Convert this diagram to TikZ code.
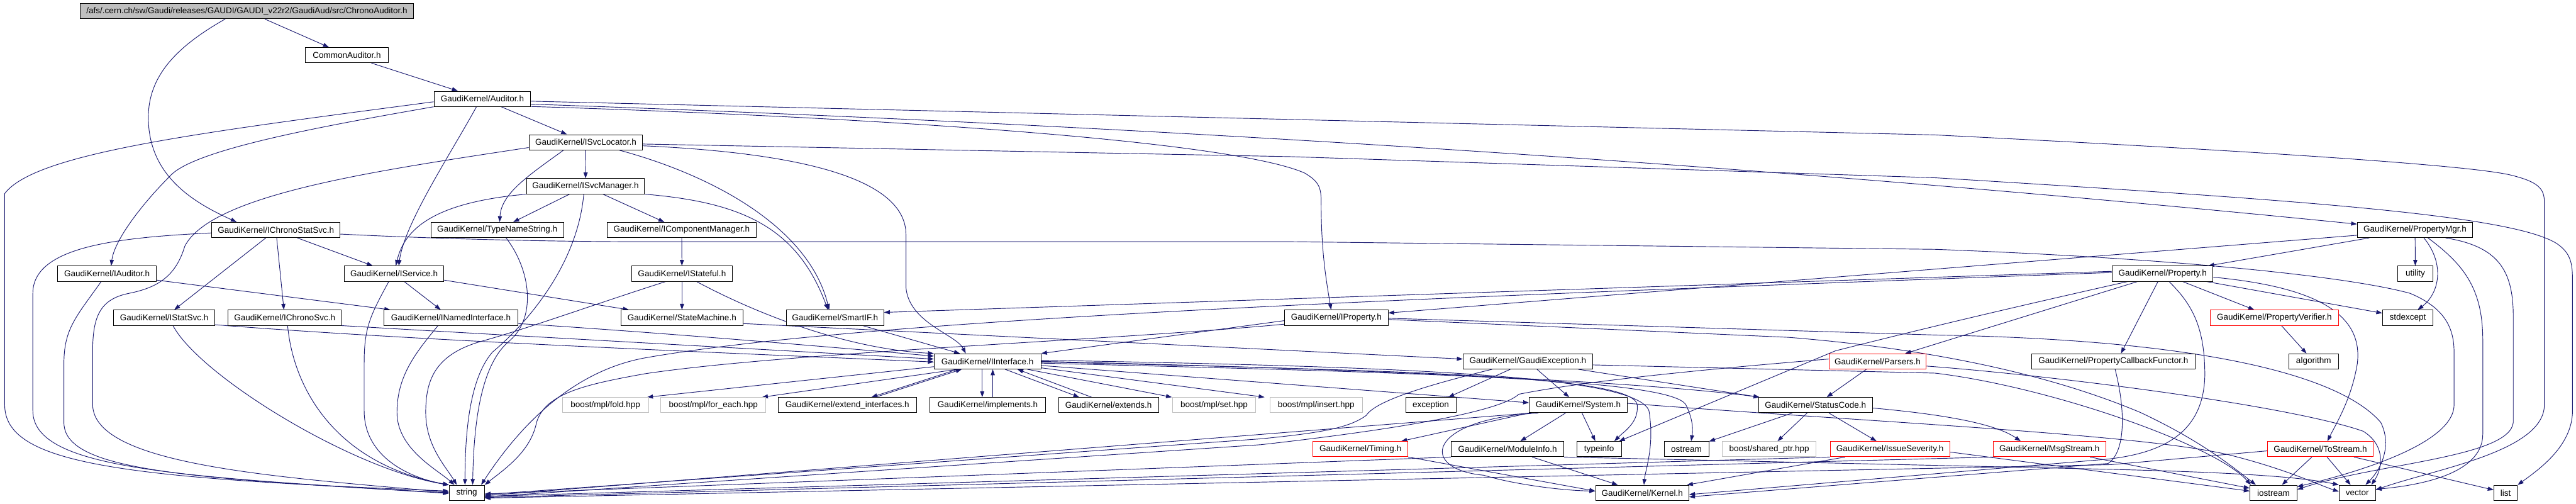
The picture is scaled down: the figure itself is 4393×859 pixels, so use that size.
\documentclass[tikz,border=0pt]{standalone}
\usepackage{fontspec}
\usetikzlibrary{arrows.meta,backgrounds}
\newfontfamily\gfont{Liberation Sans}
\newcommand{\ndfont}{\gfont\fontsize{14.5}{17}\selectfont}
\definecolor{eblue}{HTML}{191970}
\definecolor{gfill}{HTML}{BFBFBF}
\tikzset{
  nd/.style={draw=black, line width=1pt, fill=white, minimum height=26pt, inner sep=0pt, font=\ndfont, text=black},
  nmain/.style={nd, fill=gfill},
  nred/.style={nd, draw=red},
  ngrey/.style={nd, draw=gfill},
  e/.style={draw=eblue, line width=1pt, -{Triangle[length=10pt,width=7pt]}},
}
\begin{document}
\begin{tikzpicture}[x=1pt,y=-1pt]
\useasboundingbox (0,0) rectangle (4393,859);
% ---------------- nodes ----------------
\node[nmain, minimum width=568pt] (chrono) at (421,19) {/afs/.cern.ch/sw/Gaudi/releases/GAUDI/GAUDI\_v22r2/GaudiAud/src/ChronoAuditor.h};
\node[nd, minimum width=141pt] (common) at (591.5,94) {CommonAuditor.h};
\node[nd, minimum width=165pt] (auditor) at (822.5,168.5) {GaudiKernel/Auditor.h};
\node[nd, minimum width=194pt] (svcloc) at (999,242.5) {GaudiKernel/ISvcLocator.h};
\node[nd, minimum width=201pt] (svcmgr) at (998.5,317.5) {GaudiKernel/ISvcManager.h};
\node[nd, minimum width=219pt] (ichronostat) at (470.5,392) {GaudiKernel/IChronoStatSvc.h};
\node[nd, minimum width=226pt] (typename) at (848,392) {GaudiKernel/TypeNameString.h};
\node[nd, minimum width=255pt] (icompmgr) at (1162.5,392) {GaudiKernel/IComponentManager.h};
\node[nd, minimum width=197pt] (propmgr) at (4118.5,392) {GaudiKernel/PropertyMgr.h};
\node[nd, minimum width=169pt] (iauditor) at (182.5,466.5) {GaudiKernel/IAuditor.h};
\node[nd, minimum width=170pt] (iservice) at (672,466.5) {GaudiKernel/IService.h};
\node[nd, minimum width=172pt] (istateful) at (1163,466.5) {GaudiKernel/IStateful.h};
\node[nd, minimum width=172pt] (property) at (3688,466.5) {GaudiKernel/Property.h};
\node[nd, minimum width=60pt] (utility) at (4119,466.5) {utility};
\node[nd, minimum width=172pt] (istatsvc) at (280,541.5) {GaudiKernel/IStatSvc.h};
\node[nd, minimum width=193pt] (ichronosvc) at (485.5,541.5) {GaudiKernel/IChronoSvc.h};
\node[nd, minimum width=228pt] (inamed) at (769,541.5) {GaudiKernel/INamedInterface.h};
\node[nd, minimum width=208pt] (statemachine) at (1163,541.5) {GaudiKernel/StateMachine.h};
\node[nd, minimum width=166pt] (smartif) at (1424,541.5) {GaudiKernel/SmartIF.h};
\node[nd, minimum width=176pt] (iproperty) at (2279,541.5) {GaudiKernel/IProperty.h};
\node[nred, minimum width=219pt] (propverifier) at (3878.5,541.5) {GaudiKernel/PropertyVerifier.h};
\node[nd, minimum width=86pt] (stdexcept) at (4106,541.5) {stdexcept};
\node[nd, minimum width=182pt] (iinterface) at (1684,616) {GaudiKernel/IInterface.h};
\node[nd, minimum width=221pt] (gaudiexc) at (2605.5,616) {GaudiKernel/GaudiException.h};
\node[nred, minimum width=166pt] (parsers) at (3202,616) {GaudiKernel/Parsers.h};
\node[nd, minimum width=278pt] (propcallback) at (3604,616) {GaudiKernel/PropertyCallbackFunctor.h};
\node[nd, minimum width=85pt] (algorithm) at (3945.5,616) {algorithm};
\node[ngrey, minimum width=147pt] (fold) at (1032.5,690.5) {boost/mpl/fold.hpp};
\node[ngrey, minimum width=179pt] (foreach) at (1216.5,690.5) {boost/mpl/for\_each.hpp};
\node[nd, minimum width=236pt] (extendif) at (1445,690.5) {GaudiKernel/extend\_interfaces.h};
\node[nd, minimum width=197pt] (implements) at (1684.5,690.5) {GaudiKernel/implements.h};
\node[nd, minimum width=171pt] (extends) at (1890.5,690.5) {GaudiKernel/extends.h};
\node[ngrey, minimum width=141pt] (mplset) at (2070.5,690.5) {boost/mpl/set.hpp};
\node[ngrey, minimum width=157pt] (insert) at (2244.5,690.5) {boost/mpl/insert.hpp};
\node[nd, minimum width=86pt] (exception) at (2440,690.5) {exception};
\node[nd, minimum width=167pt] (system) at (2691.5,690.5) {GaudiKernel/System.h};
\node[nd, minimum width=194pt] (statuscode) at (3096,690.5) {GaudiKernel/StatusCode.h};
\node[nred, minimum width=162pt] (timing) at (2320,765.5) {GaudiKernel/Timing.h};
\node[nd, minimum width=192pt] (moduleinfo) at (2571,765.5) {GaudiKernel/ModuleInfo.h};
\node[nd, minimum width=76pt] (typeinfo) at (2727,765.5) {typeinfo};
\node[nd, minimum width=76pt] (ostream) at (2876,765.5) {ostream};
\node[ngrey, minimum width=160pt] (sharedptr) at (3017,765.5) {boost/shared\_ptr.hpp};
\node[nred, minimum width=204pt] (issue) at (3223,765.5) {GaudiKernel/IssueSeverity.h};
\node[nred, minimum width=192pt] (msgstream) at (3495,765.5) {GaudiKernel/MsgStream.h};
\node[nred, minimum width=180pt] (tostream) at (3957,765.5) {GaudiKernel/ToStream.h};
\node[nd, minimum width=159pt] (kernel) at (2800.5,840) {GaudiKernel/Kernel.h};
\node[nd, minimum width=60pt] (string) at (796,840) {string};
\node[nd, minimum width=80pt] (iostream) at (3877,840) {iostream};
\node[nd, minimum width=62pt] (vector) at (4020,840) {vector};
\node[nd, minimum width=40pt] (list) at (4273,840) {list};
% ---------------- edges ----------------
\begin{pgfonlayer}{background}
\draw[e] (chrono) -- (common);
\draw[e] ([xshift=-37pt]chrono.south) .. controls (300,80) and (253,130) .. (253,200) .. controls (253,300) and (330,345) .. ([xshift=-67pt]ichronostat.north);
\draw[e] (common) -- (auditor);
% Auditor
\draw[e] ([yshift=-5pt]auditor.west) .. controls (350,225) and (60,260) .. (8,330) -- (8,690) .. controls (8,790) and (200,815) .. ([yshift=3pt]string.west);
\draw[e] (auditor.south west) .. controls (550,215) and (330,255) .. (290,300) .. controls (240,350) and (195,410) .. ([xshift=7pt]iauditor.north);
\draw[e] ([xshift=-10pt]auditor.south) .. controls (770,260) and (690,380) .. ([xshift=8pt]iservice.north);
\draw[e] (auditor) -- (svcloc);
\draw[e] ([yshift=-4pt]auditor.east) -- (3300,230) .. controls (3800,255) and (4200,280) .. (4280,298) .. controls (4330,310) and (4339,322) .. (4339,345) -- (4339,690) .. controls (4339,770) and (4150,800) .. ([yshift=5pt]vector.east);
\draw[e] ([yshift=-9pt]auditor.east) .. controls (1700,205) and (2800,260) .. ([yshift=10pt]propmgr.west);
\draw[e] ([yshift=-13pt]auditor.east) .. controls (1500,200) and (2100,240) .. (2225,295) .. controls (2250,310) and (2253,320) .. (2253,345) .. controls (2253,430) and (2262,480) .. ([xshift=-9pt]iproperty.north);
% ISvcLocator
\draw[e] ([yshift=-9pt]svcloc.west) .. controls (650,290) and (360,330) .. (315,420) .. controls (300,470) and (270,490) .. (220,500) .. controls (170,510) and (158,540) .. (158,600) -- (158,690) .. controls (160,790) and (450,812) .. ([yshift=1pt]string.west);
\draw[e] ([xshift=-38pt]svcloc.south) .. controls (900,300) and (855,330) .. ([xshift=4pt]typename.north);
\draw[e] (svcloc) -- (svcmgr);
\draw[e] ([xshift=57pt]svcloc.south) .. controls (1220,300) and (1380,390) .. ([xshift=-10pt]smartif.north);
\draw[e] ([yshift=-6pt]svcloc.east) .. controls (1350,260) and (1545,300) .. (1545,400) -- (1545,490) .. controls (1550,550) and (1630,570) .. ([xshift=-37pt]iinterface.north);
\draw[e] ([yshift=-3pt]svcloc.east) -- (2200,267) -- (3300,303) .. controls (3900,340) and (4280,365) .. (4360,415) .. controls (4385,432) and (4387,450) .. (4387,480) -- (4387,700) .. controls (4387,760) and (4330,800) .. (list.north east);
% ISvcManager
\draw[e] (svcmgr.south west) .. controls (740,345) and (690,390) .. ([xshift=3pt]iservice.north);
\draw[e] (svcmgr) -- (typename);
\draw[e] ([xshift=-3pt]svcmgr.south) .. controls (985,450) and (900,550) .. (840,600) .. controls (805,640) and (793,720) .. ([xshift=-3pt]string.north);
\draw[e] (svcmgr) -- (icompmgr);
\draw[e] (svcmgr.south east) .. controls (1270,345) and (1360,390) .. ([xshift=-12pt]smartif.north);
% IChronoStatSvc
\draw[e] ([yshift=-5pt]ichronostat.west) .. controls (200,405) and (56,420) .. (56,500) -- (56,700) .. controls (56,800) and (300,812) .. ([yshift=-1pt]string.west);
\draw[e] (ichronostat) -- (istatsvc);
\draw[e] (ichronostat) -- (ichronosvc);
\draw[e] (ichronostat) -- (iservice);
\draw[e] ([yshift=-7pt]ichronostat.east) .. controls (700,405) and (900,412) .. (1100,412) -- (2200,412) -- (3300,425) .. controls (3700,440) and (4000,470) .. (4110,500) .. controls (4170,525) and (4185,560) .. (4185,600) -- (4185,690) .. controls (4185,760) and (4000,810) .. ([yshift=-3pt]iostream.north east);
% TypeNameString
\draw[e] ([xshift=15pt]typename.south) .. controls (905,460) and (915,540) .. (870,580) .. controls (820,620) and (808,720) .. ([xshift=10pt]string.north);
% IAuditor
\draw[e] ([xshift=-10pt]iauditor.south) .. controls (130,540) and (109,560) .. (109,620) -- (109,720) .. controls (109,800) and (300,815) .. (string.west);
\draw[e] ([yshift=-11pt]iauditor.east) -- ([xshift=11pt]inamed.north west);
% IService
\draw[e] ([xshift=-9pt]iservice.south) .. controls (630,540) and (621,560) .. (621,620) -- (621,700) .. controls (621,780) and (700,815) .. (string.north west);
\draw[e] (iservice) -- (inamed);
\draw[e] ([yshift=-11pt]iservice.east) -- ([xshift=14pt]statemachine.north west);
% IComponentManager / IStateful
\draw[e] (icompmgr) -- (istateful);
\draw[e] (istateful) -- (statemachine);
\draw[e] ([xshift=25pt]istateful.south) .. controls (1300,540) and (1450,595) .. (iinterface.north west);
\draw[e] ([xshift=-28pt]istateful.south) .. controls (1010,520) and (900,560) .. (820,582) .. controls (740,605) and (726,650) .. (726,703) .. controls (726,760) and (760,795) .. ([xshift=-17pt]string.north);
% IStatSvc / IChronoSvc / INamedInterface
\draw[e] ([xshift=15pt]istatsvc.south) .. controls (340,640) and (600,800) .. (string.north west);
\draw[e] ([yshift=-12pt]istatsvc.east) .. controls (700,580) and (1200,600) .. ([yshift=-1pt]iinterface.west);
\draw[e] ([xshift=5pt]ichronosvc.south) .. controls (500,660) and (570,790) .. (string.north west);
\draw[e] (ichronosvc.south east) .. controls (800,568) and (1200,590) .. ([yshift=4pt]iinterface.west);
\draw[e] ([yshift=-10pt]inamed.east) .. controls (1100,565) and (1400,590) .. ([yshift=9pt]iinterface.west);
\draw[e] ([xshift=-22pt]inamed.south) .. controls (710,600) and (677,640) .. (677,703) .. controls (677,765) and (745,800) .. ([xshift=-21pt]string.north);
% StateMachine, SmartIF, IProperty
\draw[e] ([yshift=-10pt]statemachine.east) -- ([yshift=4pt]gaudiexc.west);
\draw[e] (smartif) -- (iinterface);
\draw[e] ([yshift=-5pt]iproperty.west) -- (iinterface.north east);
\draw[e] ([yshift=-11pt]iproperty.west) .. controls (1900,580) and (1350,600) .. (1100,637) .. controls (1000,655) and (930,670) .. (915,720) .. controls (905,770) and (860,800) .. (string.north east);
\draw[e] ([yshift=-3pt]iproperty.east) -- (3050,575) .. controls (3300,595) and (3500,640) .. (3650,703) .. controls (3750,750) and (3800,790) .. ([xshift=-30pt]iostream.north);
\draw[e] ([yshift=-1pt]iproperty.east) -- (3300,571) .. controls (3800,580) and (4000,650) .. (4060,720) .. controls (4080,760) and (4060,800) .. ([xshift=14pt]vector.north);
% PropertyMgr
\draw[e] ([yshift=-9pt]propmgr.west) -- ([yshift=8pt]iproperty.east);
\draw[e] (propmgr) -- (property);
\draw[e] (propmgr) -- (utility);
\draw[e] ([xshift=15pt]propmgr.south) .. controls (4170,450) and (4160,500) .. ([xshift=17pt]stdexcept.north);
\draw[e] ([xshift=22pt]propmgr.south) .. controls (4200,450) and (4234,490) .. (4234,580) -- (4234,740) .. controls (4234,800) and (4150,825) .. ([yshift=6pt]vector.east);
\draw[e] ([xshift=52pt]propmgr.south) .. controls (4260,420) and (4286,460) .. (4286,540) -- (4286,720) .. controls (4280,780) and (4050,790) .. ([yshift=-8pt]iostream.north east);
% Property
\draw[e] ([yshift=2pt]property.west) .. controls (2500,505) and (1500,540) .. (1100,610) .. controls (980,632) and (890,720) .. ([xshift=-6pt]string.north east);
\draw[e] ([yshift=4pt]property.west) -- ([yshift=9pt]smartif.east);
\draw[e] (property) -- (propverifier);
\draw[e] (property) -- (stdexcept);
\draw[e] ([yshift=-6pt]property.east) .. controls (3960,490) and (4030,540) .. (4020,620) .. controls (4010,680) and (3985,720) .. ([xshift=12pt]tostream.north);
\draw[e] ([xshift=-8pt]property.south) -- ([xshift=13pt]propcallback.north);
\draw[e] ([xshift=11pt]property.south) .. controls (3740,520) and (3760,560) .. (3760,640) .. controls (3758,730) and (3700,772) .. (3590,783) -- ([yshift=-3pt]kernel.east);
\draw[e] ([xshift=-43pt]property.south) -- ([xshift=47pt]parsers.north);
\draw[e] ([xshift=-60pt]property.south) .. controls (3450,520) and (3300,555) .. (3130,598) -- ([xshift=34pt]typeinfo.north);
\draw[e] (propverifier) -- (algorithm);
% IInterface
\draw[e] ([yshift=-9pt]iinterface.west) -- ([xshift=-3pt]fold.north east);
\draw[e] ([xshift=-51pt]iinterface.south) -- ([xshift=83pt]foreach.north);
\draw[e] ([xshift=-51pt]iinterface.south) -- ([xshift=41pt]extendif.north);
\draw[e] ([xshift=48pt]extendif.north) -- ([xshift=-44pt]iinterface.south);
\draw[e] ([xshift=-9pt]iinterface.south) -- ([xshift=-9.5pt]implements.north);
\draw[e] ([xshift=8.5pt]implements.north) -- ([xshift=9pt]iinterface.south);
\draw[e] ([xshift=30pt]iinterface.south) -- ([xshift=-50pt]extends.north);
\draw[e] ([xshift=-29pt]extends.north) -- ([xshift=51pt]iinterface.south);
\draw[e] ([xshift=68pt]iinterface.south) -- ([xshift=-72pt]mplset.north);
\draw[e] ([yshift=-11pt]iinterface.east) -- ([xshift=-88pt]insert.north);
\draw[e] ([yshift=-7pt]iinterface.east) -- ([yshift=4pt]system.west);
\draw[e] ([yshift=2pt]iinterface.east) .. controls (2400,625) and (2790,640) .. (2812,700) .. controls (2822,760) and (2806,800) .. ([xshift=3pt]kernel.north);
\draw[e] (iinterface.east) .. controls (2300,628) and (2800,650) .. ([xshift=2pt]statuscode.north west);
\draw[e] ([yshift=-3pt]iinterface.east) .. controls (2400,635) and (2850,645) .. (2875,690) .. controls (2890,720) and (2886,740) .. ([xshift=8pt]ostream.north);
\draw[e] ([yshift=-1pt]iinterface.east) .. controls (2400,632) and (2785,640) .. (2792,690) .. controls (2795,720) and (2770,735) .. ([xshift=26pt]typeinfo.north);
% GaudiException
\draw[e] (gaudiexc) -- (exception);
\draw[e] (gaudiexc) -- (system);
\draw[e] ([xshift=86pt]gaudiexc.south) -- ([xshift=2pt]statuscode.north west);
\draw[e] ([xshift=-61pt]gaudiexc.south) .. controls (2420,660) and (2345,685) .. (2330,708) .. controls (2300,730) and (2250,738) .. (2150,748) -- ([yshift=-3pt]string.east);
\draw[e] ([yshift=-6pt]gaudiexc.east) -- (3300,636) .. controls (3500,660) and (3780,760) .. ([xshift=2pt]iostream.north west);
% System
\draw[e] (system) -- (moduleinfo);
\draw[e] (system) -- (typeinfo);
\draw[e] (system.south west) -- ([xshift=-12pt]timing.north east);
\draw[e] ([xshift=-68pt]system.south) .. controls (2430,715) and (2420,800) .. (2530,810) .. controls (2580,825) and (2660,836) .. ([yshift=3pt]kernel.west);
\draw[e] ([xshift=-80pt]system.south) -- ([yshift=-5pt]string.east);
\draw[e] ([yshift=3pt]system.east) .. controls (3200,720) and (3650,740) .. (3800,775) .. controls (3900,800) and (3950,825) .. ([yshift=2pt]vector.west);
% StatusCode
\draw[e] (statuscode) -- (ostream);
\draw[e] (statuscode) -- (sharedptr);
\draw[e] (statuscode) -- (issue);
\draw[e] ([yshift=-5pt]statuscode.east) .. controls (3300,705) and (3400,720) .. ([xshift=-49pt]msgstream.north);
% Parsers
\draw[e] (parsers) -- (statuscode);
\draw[e] ([yshift=4pt]parsers.west) .. controls (2900,630) and (2700,650) .. (2590,672) .. controls (2560,700) and (2400,730) .. (2150,758) -- ([yshift=-7pt]string.east);
\draw[e] ([yshift=-8pt]parsers.east) .. controls (3500,640) and (3900,690) .. (4030,735) .. controls (4070,760) and (4062,800) .. ([xshift=24pt]vector.north);
% bottom rows
\draw[e] (issue) -- (kernel);
\draw[e] (issue.south west) -- ([yshift=-6pt]string.east);
\draw[e] ([yshift=-5pt]issue.east) -- ([yshift=3pt]iostream.west);
\draw[e] (msgstream) -- (iostream);
\draw[e] (msgstream.south west) -- ([yshift=-8pt]string.east);
\draw[e] (tostream) -- (iostream);
\draw[e] (tostream) -- (vector);
\draw[e] (tostream) -- (list);
\draw[e] ([yshift=-3pt]tostream.west) -- (3600,792) -- ([yshift=-9pt]string.east);
\draw[e] ([xshift=3pt]propcallback.south) .. controls (3625,700) and (3625,770) .. (3595,790) -- ([yshift=-7pt]kernel.east);
\draw[e] (moduleinfo) -- (kernel);
\draw[e] (moduleinfo.south west) -- ([yshift=-2pt]string.east);
\draw[e] (moduleinfo.south east) -- (3600,800) .. controls (3800,805) and (3920,812) .. (vector.north west);
\draw[e] (timing.south east) -- ([yshift=3pt]kernel.west);
\end{pgfonlayer}
\end{tikzpicture}
\end{document}
